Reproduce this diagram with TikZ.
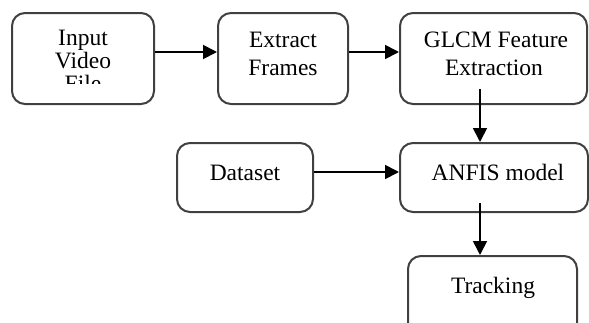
\documentclass[tikz,border=0pt]{standalone}
\usepackage{fontspec}
\setmainfont{Liberation Serif}
\usetikzlibrary{arrows.meta}
\begin{document}
\begin{tikzpicture}[x=1pt,y=-1pt,
  box/.style={draw=black!75, line width=2pt, rounded corners=13pt, inner sep=0pt, fill=white},
  txt/.style={font=\fontsize{23.5}{23}\selectfont, inner sep=0pt, anchor=base, text=black},
  arr/.style={draw=black, line width=1.7pt, -{Triangle[length=14pt,width=14pt]}}]
\clip (0,0) rectangle (589,322);
\fill[white] (0,0) rectangle (589,322);
% boxes
\node[box, minimum width=142pt, minimum height=91pt] (input) at (83,58.5) {};
\node[box, minimum width=130pt, minimum height=91pt] (extract) at (283,58.5) {};
\node[box, minimum width=187pt, minimum height=91pt] (glcm) at (493.5,58.5) {};
\node[box, minimum width=136pt, minimum height=69pt] (dataset) at (245,177.5) {};
\node[box, minimum width=188pt, minimum height=69pt] (anfis) at (494,177.5) {};
\node[box, minimum width=169pt, minimum height=80pt] (tracking) at (492.5,296) {};
% texts
\begin{scope}
  \clip (12,13) rectangle (154,83);
  \node[txt] (t1a) at (83,45) {Input};
  \node[txt] (t1b) at (83,68) {Video};
  \node[txt] (t1c) at (83,91) {File};
\end{scope}
\node[txt] (t2a) at (283,47) {Extract};
\node[txt] (t2b) at (283,75.5) {Frames};
\node[txt] (t3a) at (496,47) {GLCM Feature};
\node[txt] (t3b) at (494,75.5) {Extraction};
\node[txt] (t4) at (245,180) {Dataset};
\node[txt] (t5) at (498,180) {ANFIS model};
\node[txt] (t6) at (493,293) {Tracking};
% arrows
\draw[arr] ([yshift=6.5pt]input.east) -- ([yshift=6.5pt]extract.west);
\draw[arr] ([yshift=6.5pt]extract.east) -- ([yshift=6.5pt]glcm.west);
\draw[arr] ([xshift=-13.5pt,yshift=16pt]glcm.south) -- ([xshift=-14pt]anfis.north);
\draw[arr] ([yshift=5.5pt]dataset.east) -- ([yshift=5.5pt]anfis.west);
\draw[arr] ([xshift=-14pt,yshift=10pt]anfis.south) -- ([xshift=-12.5pt]tracking.north);
\end{tikzpicture}
\end{document}
